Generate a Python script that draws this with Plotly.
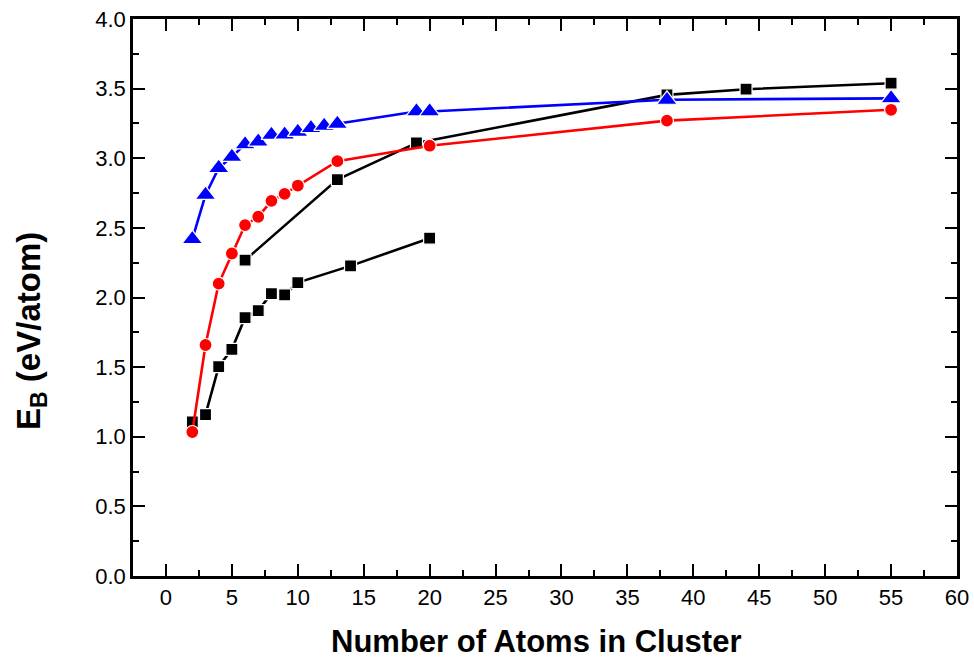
import plotly.graph_objects as go

# Lower black series (squares)
black1_x = [2, 3, 4, 5, 6, 7, 8, 9, 10, 14, 20]
black1_y = [1.106, 1.159, 1.504, 1.628, 1.856, 1.906, 2.028, 2.019, 2.107, 2.227, 2.426]

# Upper black series (squares)
black2_x = [6, 13, 19, 38, 44, 55]
black2_y = [2.268, 2.847, 3.11, 3.455, 3.496, 3.539]

# Red series (circles)
red_x = [2, 3, 4, 5, 6, 7, 8, 9, 10, 13, 20, 38, 55]
red_y = [1.034, 1.659, 2.10, 2.316, 2.52, 2.58, 2.694, 2.744, 2.804, 2.979, 3.09, 3.27, 3.348]

# Blue series (triangles)
blue_x = [2, 3, 4, 5, 6, 7, 8, 9, 10, 11, 12, 13, 19, 20, 38, 55]
blue_y = [2.42, 2.737, 2.93, 3.01, 3.10, 3.12, 3.168, 3.17, 3.19, 3.216, 3.233, 3.247, 3.336, 3.336, 3.42, 3.43]

x_ticks = [0, 5, 10, 15, 20, 25, 30, 35, 40, 45, 50, 55, 60]
y_ticks = [0.0, 0.5, 1.0, 1.5, 2.0, 2.5, 3.0, 3.5, 4.0]
y_tick_labels = ["0.0", "0.5", "1.0", "1.5", "2.0", "2.5", "3.0", "3.5", "4.0"]

x_title = "<b>Number of Atoms in Cluster</b>"
y_title = "<b>E<sub>B</sub> (eV/atom)</b>"

fig = go.Figure()

def add(x, y, color, symbol, size):
    fig.add_trace(go.Scatter(
        x=x, y=y, mode="lines+markers",
        line=dict(color=color, width=2.6),
        marker=dict(symbol=symbol, size=size, color=color,
                    line=dict(color="white", width=1.2)),
        showlegend=False, cliponaxis=False,
    ))

add(black1_x, black1_y, "black", "square", 12)
add(black2_x, black2_y, "black", "square", 12)
add(red_x, red_y, "#ff0000", "circle", 13)
add(blue_x, blue_y, "#0000ff", "triangle-up", 18)

tickfont = dict(family="Liberation Sans, Arial, sans-serif", size=22, color="black")
xtitlefont = dict(family="Liberation Sans, Arial, sans-serif", size=31, color="black")
ytitlefont = dict(family="Liberation Sans, Arial, sans-serif", size=33, color="black")

fig.update_layout(
    width=974, height=662,
    margin=dict(l=133, r=17, t=19, b=86),
    plot_bgcolor="white", paper_bgcolor="white",
    xaxis=dict(
        range=[-2.5, 60], tickvals=x_ticks, ticktext=[str(v) for v in x_ticks],
        ticks="inside", ticklen=12, tickwidth=2, tickcolor="black",
        showline=True, linewidth=2.5, linecolor="black", mirror="allticks",
        showgrid=False, zeroline=False, tickfont=tickfont, automargin=False,
        minor=dict(dtick=2.5, tick0=0, ticks="inside", ticklen=6, tickwidth=2, tickcolor="black"),
    ),
    yaxis=dict(
        range=[0, 4.0], tickvals=y_ticks, ticktext=y_tick_labels,
        ticks="inside", ticklen=12, tickwidth=2, tickcolor="black",
        showline=True, linewidth=2.5, linecolor="black", mirror="allticks",
        showgrid=False, zeroline=False, tickfont=tickfont, automargin=False,
        minor=dict(dtick=0.25, tick0=0, ticks="inside", ticklen=6, tickwidth=2, tickcolor="black"),
    ),
    annotations=[
        dict(text=x_title, xref="paper", yref="paper", x=(536 - 133) / 824, y=(576 - 641) / 557,
             xanchor="center", yanchor="middle", showarrow=False, font=xtitlefont),
        dict(text=y_title, xref="paper", yref="paper", x=(31 - 133) / 824, y=(576 - 331) / 557,
             xanchor="center", yanchor="middle", showarrow=False, textangle=-90, font=ytitlefont),
    ],
)

fig.write_html("out.html")
